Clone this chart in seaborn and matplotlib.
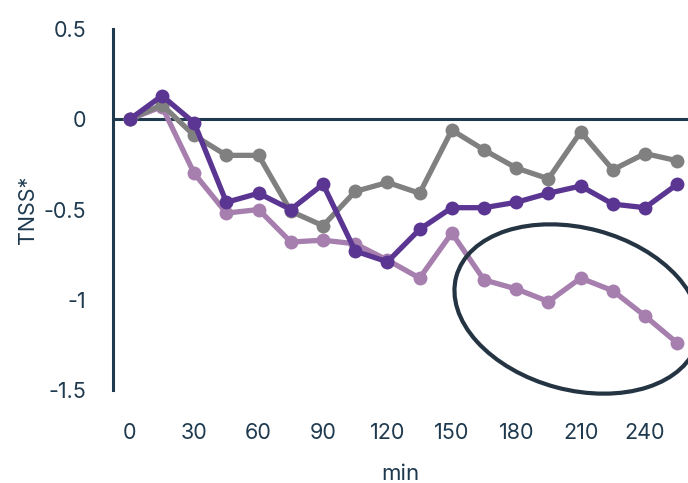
import pandas as pd
import matplotlib.pyplot as plt
import seaborn as sns
from matplotlib.patches import Ellipse
from matplotlib.transforms import IdentityTransform

# time points (min) and series values
minutes = [0, 15, 30, 45, 60, 75, 90, 105, 120, 135, 150, 165, 180, 195, 210, 225, 240, 255]
gray_vals = [0, 0.08, -0.09, -0.20, -0.20, -0.51, -0.59, -0.40, -0.35, -0.41,
             -0.06, -0.17, -0.27, -0.33, -0.07, -0.28, -0.19, -0.23]
dark_vals = [0, 0.13, -0.02, -0.46, -0.41, -0.50, -0.36, -0.73, -0.79, -0.61,
             -0.49, -0.49, -0.46, -0.41, -0.37, -0.47, -0.49, -0.36]
light_vals = [0, 0.07, -0.30, -0.52, -0.50, -0.68, -0.67, -0.69, -0.78, -0.88,
              -0.63, -0.89, -0.94, -1.01, -0.88, -0.95, -1.09, -1.24]
series_names = ["light", "gray", "dark"]
colors = {"light": "#a67fae", "gray": "#808080", "dark": "#5a3591"}
xticks = [0, 30, 60, 90, 120, 150, 180, 210, 240]
yticks = [-1.5, -1, -0.5, 0, 0.5]
ytick_labels = ["-1.5", "-1", "-0.5", "0", "0.5"]

df = pd.concat([
    pd.DataFrame({"min": minutes, "TNSS": light_vals, "series": "light"}),
    pd.DataFrame({"min": minutes, "TNSS": gray_vals, "series": "gray"}),
    pd.DataFrame({"min": minutes, "TNSS": dark_vals, "series": "dark"}),
])

sns.set_theme(style="white")
plt.rcParams["font.family"] = ["Inter", "DejaVu Sans"]
navy = "#1f3a4f"

fig = plt.figure(figsize=(6.88, 4.83), dpi=100)
ax = fig.add_axes([0.164, 0.1925, 0.836, 0.7475])

ax.axhline(0, color=navy, lw=2.2, zorder=1)
sns.lineplot(data=df, x="min", y="TNSS", hue="series", hue_order=series_names,
             palette=colors, marker="o", markersize=10, markeredgewidth=0,
             linewidth=3.8, legend=False, ax=ax, zorder=3)

ax.set_xlim(-7.9, 260)
ax.set_ylim(-1.5, 0.5)
ax.set_xticks(xticks)
ax.set_yticks(yticks)
ax.set_yticklabels(ytick_labels)
ax.tick_params(axis="both", length=0, labelsize=15.5, labelcolor=navy)
ax.tick_params(axis="y", pad=19)
ax.tick_params(axis="x", pad=24)
ax.set_xlabel("min", fontsize=16, color=navy, labelpad=15)
ax.set_ylabel("TNSS*", fontsize=15.5, color=navy, labelpad=4)

for side in ["top", "right", "bottom"]:
    ax.spines[side].set_visible(False)
ax.spines["left"].set_color(navy)
ax.spines["left"].set_linewidth(2.2)

# highlight ellipse around the late light-purple points (pixel coordinates)
ell = Ellipse((577, 483 - 309), 250, 162, angle=-15, fill=False,
              edgecolor="#253443", lw=3.0, transform=IdentityTransform(),
              clip_on=False, zorder=4)
fig.add_artist(ell)

fig.savefig("out.png", dpi=100)
